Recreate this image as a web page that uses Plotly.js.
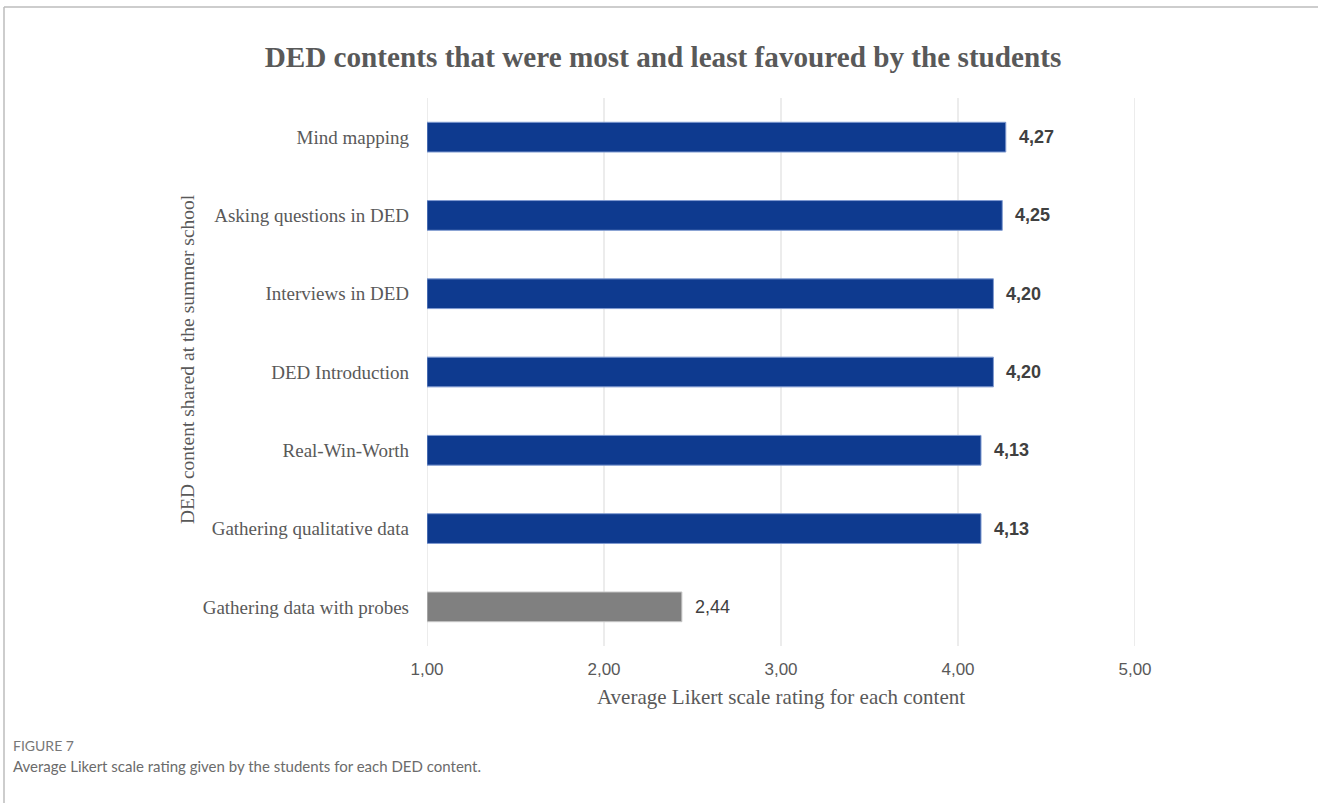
<!DOCTYPE html>
<html>
<head>
<meta charset="utf-8">
<script src="https://cdn.plot.ly/plotly-3.0.1.min.js"></script>
<style>
html,body{margin:0;padding:0;background:#fff;}
#chart{width:1318px;height:803px;}
</style>
</head>
<body>
<div id="chart"></div>
<script>
// ---- data ----
const categories = [
  "Mind mapping",
  "Asking questions in DED",
  "Interviews in DED",
  "DED Introduction",
  "Real-Win-Worth",
  "Gathering qualitative data",
  "Gathering data with probes"
];
const ratings = [4.27, 4.25, 4.20, 4.20, 4.13, 4.13, 2.44];
const barColors = ["#0e3a8f","#0e3a8f","#0e3a8f","#0e3a8f","#0e3a8f","#0e3a8f","#808080"];
const edgeColors = ["#7f9ad0","#7f9ad0","#7f9ad0","#7f9ad0","#7f9ad0","#7f9ad0","#c8c8c8"];
const labelBold = [true, true, true, true, true, true, false];
const xTicks = [1, 2, 3, 4, 5];
const chartTitle = "DED contents that were most and least favoured by the students";
const xTitle = "Average Likert scale rating for each content";
const yTitle = "DED content shared at the summer school";
const figLabel = "FIGURE 7";
const figCaption = "Average Likert scale rating given by the students for each DED content.";

// ---- layout geometry (pixels) ----
const W = 1318, H = 803;
const L = 427, R = 1135, T = 98, B = 646;
const pw = R - L, ph = B - T;
const px = p => (p - L) / pw;          // page x pixel -> paper x
const py = p => 1 - (p - T) / ph;      // page y pixel -> paper y

const serif = "'Liberation Serif', 'Times New Roman', serif";
const sans = "'Liberation Sans', Arial, sans-serif";
const capFont = "Lato, 'Open Sans', sans-serif";

const fmt = v => v.toFixed(2).replace(".", ",");

const trace = {
  type: "bar",
  orientation: "h",
  y: categories,
  x: ratings.map(v => v - 1),   // bar lengths measured from the axis start at 1
  base: 1,
  width: 0.38,
  customdata: ratings,
  marker: { color: barColors, line: { color: edgeColors, width: 1 } },
  hovertemplate: "%{y}: %{customdata:.2f}<extra></extra>"
};

const valueAnnotations = categories.map((c, i) => ({
  x: ratings[i], y: c, xref: "x", yref: "y",
  text: labelBold[i] ? "<b>" + fmt(ratings[i]) + "</b>" : fmt(ratings[i]),
  showarrow: false, xanchor: "left", yanchor: "middle", xshift: 11,
  font: { family: sans, size: 18, color: "#404040" }
}));

const gridShapes = xTicks.map(v => ({
  type: "line", xref: "x", yref: "paper", x0: v, x1: v, y0: 0, y1: 1,
  layer: "below", line: { color: "#d9d9d9", width: 1 }
}));

const layout = {
  width: W, height: H,
  margin: { l: L, r: W - R, t: T, b: H - B, pad: 0 },
  paper_bgcolor: "#ffffff",
  plot_bgcolor: "#ffffff",
  separators: ", ",
  showlegend: false,
  title: {
    text: "<b>" + chartTitle + "</b>",
    font: { family: serif, size: 29.2, color: "#595959" },
    xref: "container", x: 663 / W, xanchor: "center",
    yref: "container", y: 1 - 57 / H, yanchor: "middle"
  },
  xaxis: {
    range: [1, 5],
    tickvals: xTicks,
    tickformat: ".2f",
    showgrid: false,
    zeroline: false, showline: false, ticks: "",
    ticklabelstandoff: 11,
    tickfont: { family: sans, size: 17, color: "#595959" },
    fixedrange: true
  },
  yaxis: {
    type: "category",
    autorange: "reversed",
    showgrid: false, zeroline: false, showline: false, ticks: "",
    ticklabelstandoff: 17,
    tickfont: { family: serif, size: 19, color: "#595959" },
    fixedrange: true
  },
  annotations: valueAnnotations.concat([
    { text: xTitle, xref: "paper", yref: "paper", x: px(781), y: py(697),
      xanchor: "center", yanchor: "middle", showarrow: false,
      font: { family: serif, size: 21, color: "#595959" } },
    { text: yTitle, xref: "paper", yref: "paper", x: px(187), y: py(359),
      xanchor: "center", yanchor: "middle", showarrow: false, textangle: -90,
      font: { family: serif, size: 19.5, color: "#595959" } },
    { text: figLabel, xref: "paper", yref: "paper", x: px(11), y: py(745),
      xanchor: "left", yanchor: "middle", showarrow: false,
      font: { family: capFont, size: 14, color: "#777777" } },
    { text: figCaption, xref: "paper", yref: "paper", x: px(11), y: py(766),
      xanchor: "left", yanchor: "middle", showarrow: false,
      font: { family: capFont, size: 15, color: "#6b6b6b" } }
  ]),
  shapes: gridShapes.concat([
    { type: "line", xref: "paper", yref: "paper", x0: px(4), x1: px(W + 5), y0: py(7), y1: py(7),
      line: { color: "#bdbdbd", width: 1.5 } },
    { type: "line", xref: "paper", yref: "paper", x0: px(4), x1: px(4), y0: py(7), y1: py(H + 5),
      line: { color: "#bdbdbd", width: 1.5 } }
  ])
};

Plotly.newPlot("chart", [trace], layout, { displayModeBar: false, staticPlot: true });
</script>
</body>
</html>
